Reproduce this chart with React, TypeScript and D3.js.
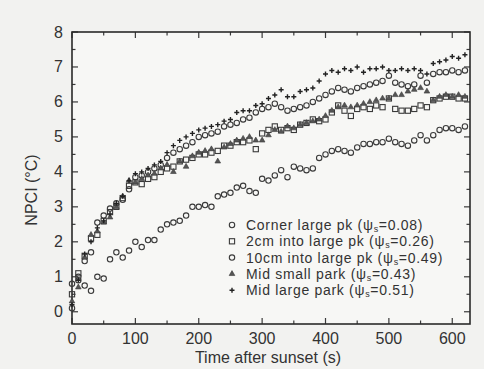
import React, { useEffect, useRef } from "react";
import * as d3 from "d3";

// sample times (s), one reading every 10 s
const times = d3.range(0, 630, 10);

const cornerLarge = [0.1, 0.9, 0.75, 0.6, 1.0, 0.95, 1.5, 1.7, 1.55, 1.75, 2.0, 1.85, 2.05, 2.05, 2.35, 2.5, 2.55, 2.6, 2.75, 3.0, 3.0, 3.05, 3.0, 3.3, 3.35, 3.4, 3.55, 3.6, 3.45, 3.4, 3.8, 3.75, 3.9, 4.05, 3.85, 4.15, 4.1, 4.05, 4.1, 4.4, 4.5, 4.6, 4.65, 4.6, 4.55, 4.7, 4.8, 4.8, 4.85, 4.85, 4.95, 4.85, 4.8, 4.75, 4.9, 5.05, 4.9, 5.05, 5.2, 5.25, 5.25, 5.2, 5.3];
const twoCm = [0.5, 1.1, 1.6, 2.1, 2.2, 2.6, 2.85, 3.0, 3.25, 3.6, 3.7, 3.65, 3.8, 3.85, 4.0, 4.1, 4.15, 4.3, 4.35, 4.4, 4.5, 4.5, 4.55, 4.6, 4.75, 4.75, 4.85, 4.85, 4.9, 4.65, 5.1, 5.2, 5.3, 5.2, 5.25, 5.2, 5.35, 5.4, 5.5, 5.45, 5.5, 5.7, 5.9, 5.75, 5.6, 5.8, 5.85, 5.8, 5.9, 5.85, 6.1, 5.8, 5.75, 5.75, 5.8, 5.9, 5.85, 6.05, 6.1, 6.15, 6.15, 6.1, 6.1];
const tenCm = [0.8, 1.0, 1.45, 1.7, 2.55, 2.75, 2.95, 3.1, 3.2, 3.5, 3.85, 3.9, 4.0, 4.1, 4.2, 4.4, 4.55, 4.65, 4.75, 4.85, 5.0, 5.05, 5.1, 5.15, 5.3, 5.35, 5.4, 5.5, 5.55, 5.7, 5.8, 5.85, 5.95, 5.85, 5.75, 5.8, 5.85, 5.9, 6.0, 6.1, 6.2, 6.3, 6.4, 6.35, 6.3, 6.4, 6.45, 6.5, 6.55, 6.6, 6.75, 6.55, 6.5, 6.45, 6.5, 6.75, 6.55, 6.8, 6.85, 6.85, 6.9, 6.85, 6.9];
const midSmall = [0.3, 0.7, 1.55, 2.2, 2.3, 2.55, 2.7, 3.0, 3.3, 3.75, 3.7, 3.8, 3.9, 3.95, 4.1, 4.2, 4.0, 4.3, 4.15, 4.45, 4.55, 4.6, 4.65, 4.3, 4.7, 4.8, 4.9, 4.95, 5.0, 4.9, 4.9, 5.05, 5.2, 5.15, 5.3, 5.25, 5.35, 5.4, 5.45, 5.5, 5.6, 5.75, 5.85, 5.9, 5.85, 5.9, 5.95, 6.0, 6.05, 6.1, 6.1, 6.2, 6.2, 6.3, 6.35, 6.4, 6.3, 6.05, 6.15, 6.2, 6.15, 6.2, 6.15];
const midLarge = [0.2, 0.9, 1.65, 2.0, 2.4, 2.6, 2.8, 3.1, 3.3, 3.75, 3.95, 4.0, 4.1, 4.2, 4.3, 4.55, 4.75, 4.9, 5.0, 5.1, 5.2, 5.25, 5.3, 5.35, 5.45, 5.5, 5.7, 5.75, 5.75, 5.9, 5.95, 6.1, 6.2, 6.35, 6.15, 6.15, 6.3, 6.35, 6.4, 6.6, 6.8, 6.9, 6.85, 6.95, 6.9, 7.0, 6.85, 6.95, 6.95, 7.0, 6.9, 6.9, 6.95, 6.9, 6.95, 6.9, 6.8, 7.1, 7.15, 7.2, 7.3, 7.25, 7.35];

const seriesNames = ["Corner large pk (", "2cm into large pk (", "10cm into large pk (", "Mid small park (", "Mid large park ("];
const psiValues = ["0.08", "0.26", "0.49", "0.43", "0.51"];
const markerKinds = ["circle", "square", "circle", "triangle", "plus"];

const xTicks = [0, 100, 200, 300, 400, 500, 600];
const yTicks = [0, 1, 2, 3, 4, 5, 6, 7, 8];

const W = 484, H = 369;
const ink = "#3a3a3a";

function drawMarker(g, kind, x, y) {
  if (kind === "circle") {
    g.append("circle").attr("cx", x).attr("cy", y).attr("r", 2.7).attr("fill", "none").attr("stroke", ink).attr("stroke-width", 1.1);
  } else if (kind === "square") {
    g.append("rect").attr("x", x - 2.6).attr("y", y - 2.6).attr("width", 5.2).attr("height", 5.2).attr("fill", "none").attr("stroke", ink).attr("stroke-width", 1.1);
  } else if (kind === "triangle") {
    g.append("path").attr("d", d3.symbol(d3.symbolTriangle, 14)()).attr("transform", `translate(${x},${y})`).attr("fill", "#555").attr("stroke", ink).attr("stroke-width", 0.6);
  } else {
    g.append("path").attr("d", `M${x - 2.5},${y}H${x + 2.5}M${x},${y - 2.5}V${y + 2.5}`).attr("stroke", "#222").attr("stroke-width", 1.4);
  }
}

const App = () => {
  const ref = useRef(null);

  useEffect(() => {
    const svg = d3.select(ref.current);
    svg.selectAll("*").remove();

    const left = 72, right = 470, top = 32, bottom = 324;
    const x = d3.scaleLinear().domain([0, 628]).range([left, right]);
    const y = d3.scaleLinear().domain([-0.35, 8]).range([bottom, top]);

    svg.append("rect").attr("width", W).attr("height", H).attr("fill", "#f2f2f0");
    svg.append("rect").attr("x", left).attr("y", top).attr("width", right - left).attr("height", bottom - top).attr("fill", "#f7f7f5");

    const font = "'Liberation Sans', Arial, sans-serif";

    // ticks on all four sides, pointing inward
    const ticks = svg.append("g").attr("stroke", ink).attr("stroke-width", 1.2);
    d3.range(0, 628, 50).forEach((v) => {
      const len = v % 100 === 0 ? 6 : 3.5;
      ticks.append("line").attr("x1", x(v)).attr("x2", x(v)).attr("y1", bottom).attr("y2", bottom - len);
      ticks.append("line").attr("x1", x(v)).attr("x2", x(v)).attr("y1", top).attr("y2", top + len);
    });
    d3.range(0, 8.01, 0.5).forEach((v) => {
      const len = v % 1 === 0 ? 6 : 3.5;
      ticks.append("line").attr("y1", y(v)).attr("y2", y(v)).attr("x1", left).attr("x2", left + len);
      ticks.append("line").attr("y1", y(v)).attr("y2", y(v)).attr("x1", right).attr("x2", right - len);
    });

    svg.append("rect").attr("x", left).attr("y", top).attr("width", right - left).attr("height", bottom - top)
      .attr("fill", "none").attr("stroke", "#2a2a2a").attr("stroke-width", 1.6);

    const labels = svg.append("g").attr("font-family", font).attr("font-size", 16).attr("fill", "#333");
    xTicks.forEach((v) => {
      labels.append("text").attr("x", x(v)).attr("y", 344).attr("text-anchor", "middle").text(v);
    });
    yTicks.forEach((v) => {
      labels.append("text").attr("x", 63).attr("y", y(v) + 5.5).attr("text-anchor", "end").text(v);
    });
    labels.append("text").attr("x", 268).attr("y", 363).attr("text-anchor", "middle").text("Time after sunset (s)");
    labels.append("text").attr("transform", "translate(37,190) rotate(-90)").attr("text-anchor", "middle").text("NPCI (°C)");

    const allSeries = [cornerLarge, twoCm, tenCm, midSmall, midLarge];
    const pts = svg.append("g");
    allSeries.forEach((vals, si) => {
      vals.forEach((v, i) => drawMarker(pts, markerKinds[si], x(times[i]), y(v)));
    });

    // legend
    const legend = svg.append("g");
    seriesNames.forEach((name, i) => {
      const cy = 225 + i * 16.3;
      drawMarker(legend, markerKinds[i], 232, cy);
      const t = legend.append("text").attr("x", 246).attr("y", cy + 5)
        .attr("font-family", font).attr("font-size", 14).attr("letter-spacing", 0.7).attr("fill", "#333");
      t.append("tspan").text(name + "ψ");
      t.append("tspan").attr("font-size", 9).attr("dy", 2).text("s");
      t.append("tspan").attr("dy", -2).text("=" + psiValues[i] + ")");
    });
  }, []);

  return <svg ref={ref} width={W} height={H} style={{ position: "absolute", left: 0, top: 0 }}></svg>;
};

export default App;
